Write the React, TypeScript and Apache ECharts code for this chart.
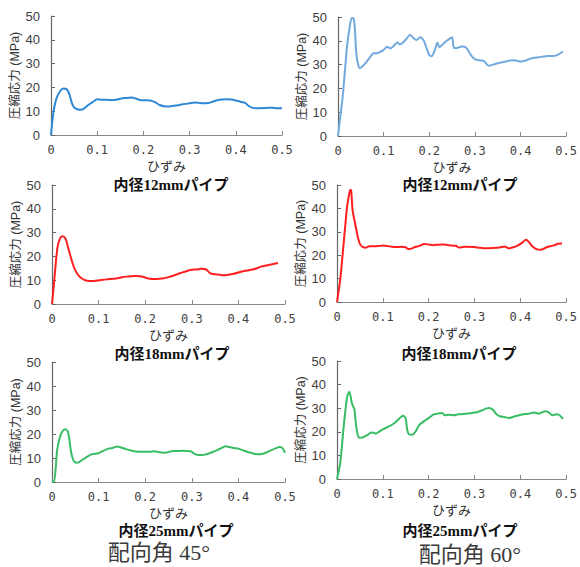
import React, { useEffect, useRef } from "react";
import * as echarts from "echarts";

// strain (ひずみ), compressive stress (MPa)
const curve45_12: [number, number][] = [
  [0, 0], [0.003, 6], [0.006, 10.5], [0.012, 15.5], [0.02, 18.5], [0.027, 19.5], [0.034, 19.2],
  [0.04, 17], [0.045, 13.5], [0.05, 11.6], [0.057, 10.8], [0.064, 10.6], [0.072, 11.2], [0.08, 12.5],
  [0.09, 13.8], [0.1, 15], [0.11, 14.8], [0.12, 14.8], [0.13, 14.7], [0.14, 14.8], [0.15, 15.2],
  [0.16, 15.5], [0.175, 15.8], [0.185, 15.2], [0.195, 14.6], [0.205, 14.6], [0.215, 14.5],
  [0.225, 13.8], [0.235, 12.6], [0.245, 12.1], [0.255, 12.0], [0.27, 12.4], [0.285, 12.9],
  [0.3, 13.3], [0.31, 13.7], [0.32, 13.5], [0.33, 13.3], [0.34, 13.4], [0.35, 14.0], [0.36, 14.6],
  [0.37, 14.9], [0.38, 15.0], [0.39, 14.9], [0.4, 14.5], [0.41, 14.0], [0.42, 13.5], [0.428, 12.2],
  [0.435, 11.5], [0.445, 11.2], [0.46, 11.3], [0.47, 11.5], [0.48, 11.4], [0.49, 11.2], [0.5, 11.2],
];

const curve60_12: [number, number][] = [
  [0, 0], [0.005, 8], [0.01, 16], [0.015, 27], [0.02, 38], [0.025, 45], [0.03, 49.6], [0.034, 49.5],
  [0.037, 45], [0.04, 35], [0.044, 30], [0.048, 28.5], [0.055, 29.5], [0.062, 31], [0.07, 33],
  [0.078, 34.8], [0.085, 34.8], [0.092, 35.3], [0.1, 36.2], [0.108, 37.5], [0.115, 36.8],
  [0.122, 37.8], [0.13, 39.3], [0.135, 38.5], [0.142, 39.2], [0.15, 40.8], [0.158, 42.5],
  [0.165, 41.2], [0.172, 40.3], [0.18, 41.5], [0.188, 40], [0.195, 36.5], [0.2, 34], [0.205, 33.5],
  [0.212, 36], [0.218, 39.3], [0.222, 37.3], [0.228, 38.2], [0.235, 39.5], [0.242, 40.5],
  [0.25, 41.5], [0.254, 37], [0.262, 37], [0.27, 37.6], [0.278, 37.5], [0.285, 36], [0.292, 33.8],
  [0.3, 32.3], [0.31, 31.8], [0.32, 31.5], [0.33, 29.5], [0.34, 30], [0.35, 30.6], [0.36, 31],
  [0.37, 31.4], [0.38, 31.8], [0.39, 31.7], [0.4, 31.3], [0.41, 31.6], [0.42, 32.4], [0.43, 32.9],
  [0.44, 33.1], [0.45, 33.4], [0.46, 33.6], [0.47, 33.6], [0.48, 34], [0.493, 35.5],
];

const curve45_18: [number, number][] = [
  [0, 0], [0.004, 8], [0.008, 17], [0.012, 24], [0.017, 27.5], [0.022, 28.5], [0.026, 28.2],
  [0.03, 27], [0.036, 22.7], [0.042, 18.5], [0.048, 15], [0.055, 12.5], [0.062, 11], [0.07, 10.1],
  [0.08, 9.7], [0.09, 9.7], [0.1, 9.9], [0.11, 10.2], [0.12, 10.4], [0.13, 10.6], [0.14, 10.8],
  [0.15, 11.2], [0.16, 11.5], [0.17, 11.7], [0.18, 11.8], [0.19, 11.7], [0.2, 11.1], [0.21, 10.6],
  [0.22, 10.5], [0.23, 10.6], [0.24, 10.8], [0.25, 11.3], [0.26, 11.9], [0.27, 12.6], [0.28, 13.3],
  [0.29, 13.9], [0.3, 14.4], [0.31, 14.5], [0.32, 14.8], [0.33, 14.6], [0.34, 12.9], [0.35, 12.5],
  [0.36, 12.3], [0.37, 12.1], [0.38, 12.3], [0.39, 12.7], [0.4, 13.2], [0.41, 13.8], [0.42, 14.1],
  [0.43, 14.5], [0.44, 15.0], [0.45, 15.8], [0.46, 16.2], [0.47, 16.6], [0.485, 17.2],
];

const curve60_18: [number, number][] = [
  [0, 0], [0.007, 9.5], [0.0145, 25], [0.022, 40.8], [0.027, 46.5], [0.029, 48], [0.031, 47.5],
  [0.034, 39.3], [0.04, 33], [0.046, 27.3], [0.051, 24.4], [0.056, 23.6], [0.062, 23.2],
  [0.07, 23.8], [0.08, 23.8], [0.09, 23.9], [0.1, 24.1], [0.11, 23.9], [0.12, 23.6], [0.13, 23.5],
  [0.14, 23.6], [0.15, 23.4], [0.155, 22.6], [0.162, 22.8], [0.17, 23.5], [0.18, 24], [0.19, 24.8],
  [0.2, 24.6], [0.21, 24.3], [0.22, 24.5], [0.23, 24.6], [0.24, 24.4], [0.25, 24.1], [0.26, 24],
  [0.265, 23.3], [0.28, 23.6], [0.3, 23.5], [0.31, 23.2], [0.32, 23], [0.34, 23.1], [0.355, 23.3],
  [0.365, 23.7], [0.375, 22.9], [0.385, 23.4], [0.395, 24.2], [0.405, 25.5], [0.412, 26.6],
  [0.418, 25.8], [0.425, 24], [0.435, 22.6], [0.445, 22.3], [0.455, 23.2], [0.465, 23.8],
  [0.475, 24.3], [0.482, 24.9], [0.491, 25],
];

const curve45_25: [number, number][] = [
  [0, 0], [0.004, 0], [0.008, 6], [0.011, 13.2], [0.018, 19.4], [0.024, 21.5], [0.029, 22],
  [0.034, 21], [0.037, 18], [0.041, 12.5], [0.046, 9], [0.052, 8], [0.058, 8.3], [0.065, 9.2],
  [0.075, 10.5], [0.085, 11.5], [0.1, 12], [0.11, 13], [0.12, 13.8], [0.13, 14.2], [0.14, 14.8],
  [0.15, 14.3], [0.16, 13.6], [0.17, 13.1], [0.18, 12.7], [0.19, 12.6], [0.2, 12.6], [0.21, 12.6],
  [0.22, 12.8], [0.23, 12.4], [0.24, 12.2], [0.25, 12.5], [0.26, 12.9], [0.27, 12.9], [0.28, 13],
  [0.29, 12.9], [0.3, 12.6], [0.305, 11.8], [0.315, 11.2], [0.325, 11.3], [0.335, 11.8],
  [0.345, 12.5], [0.355, 13.3], [0.365, 14.3], [0.372, 14.9], [0.38, 14.6], [0.39, 14.2],
  [0.4, 13.9], [0.41, 13.2], [0.42, 12.5], [0.43, 12], [0.44, 11.6], [0.45, 11.7], [0.46, 12.3],
  [0.47, 13.2], [0.48, 14], [0.488, 14.6], [0.494, 14.2], [0.5, 12.2],
];

const curve60_25: [number, number][] = [
  [0, 0], [0.007, 6.7], [0.0145, 22], [0.022, 34.8], [0.027, 37], [0.0326, 32], [0.036, 30.5],
  [0.038, 29.5], [0.042, 22.2], [0.047, 17.7], [0.054, 17.5], [0.06, 18], [0.068, 18.8],
  [0.075, 19.7], [0.08, 19.6], [0.085, 19.2], [0.09, 19.8], [0.1, 21], [0.11, 22], [0.12, 23],
  [0.13, 24.5], [0.14, 26.4], [0.145, 26.8], [0.15, 25.5], [0.153, 21], [0.157, 19], [0.165, 18.8],
  [0.172, 20.3], [0.18, 23], [0.19, 24.5], [0.2, 25.8], [0.21, 27.3], [0.22, 27.8], [0.23, 28],
  [0.235, 27], [0.245, 27.2], [0.255, 27], [0.265, 27.4], [0.275, 27.5], [0.285, 27.8], [0.295, 28],
  [0.305, 28.3], [0.315, 29], [0.325, 29.8], [0.332, 30.1], [0.34, 29.4], [0.348, 27.5],
  [0.355, 26.6], [0.365, 26.3], [0.375, 25.8], [0.385, 26.4], [0.395, 26.9], [0.41, 27.5],
  [0.42, 27.7], [0.43, 28.2], [0.44, 27.7], [0.455, 28.7], [0.462, 28.2], [0.47, 27], [0.48, 27.4],
  [0.487, 26.8], [0.493, 25.5],
];

const panelTitles = ["内径12mmパイプ", "内径12mmパイプ", "内径18mmパイプ", "内径18mmパイプ", "内径25mmパイプ", "内径25mmパイプ"];
const angleLabels = ["配向角 45°", "配向角 60°"];
const xAxisName = "ひずみ";
const yAxisName = "圧縮応力 (MPa)";

const panels = [
  { data: curve45_12, color: "#2f87d6", grid: { left: 51, top: 16, width: 231, height: 119 }, title: [171, 185] },
  { data: curve60_12, color: "#72a9de", grid: { left: 338, top: 17, width: 232, height: 119 }, title: [460, 185] },
  { data: curve45_18, color: "#ff1f1f", grid: { left: 52, top: 185, width: 233, height: 119 }, title: [172, 354] },
  { data: curve60_18, color: "#ff1f1f", grid: { left: 337, top: 185, width: 230, height: 117 }, title: [459, 354] },
  { data: curve45_25, color: "#38bd64", grid: { left: 52, top: 362, width: 233, height: 120 }, title: [176, 531] },
  { data: curve60_25, color: "#38bd64", grid: { left: 337, top: 361, width: 230, height: 118 }, title: [460, 531] },
];

export default function App() {
  const ref = useRef<HTMLDivElement>(null);
  useEffect(() => {
    if (!ref.current) return;
    const chart = echarts.init(ref.current, undefined, { renderer: "svg" });
    const grids = panels.map((p) => ({ ...p.grid, containLabel: false }));
    const xAxes = panels.map((_, i) => ({
      type: "value",
      gridIndex: i,
      min: 0,
      max: 0.5,
      interval: 0.1,
      name: xAxisName,
      nameLocation: "middle",
      nameGap: 24,
      nameTextStyle: { fontSize: 13, lineHeight: 13, color: "#333", fontFamily: "'Noto Sans CJK JP'" },
      axisLine: { show: true, onZero: false, lineStyle: { color: "#888", width: 1.2 } },
      axisTick: { show: true, inside: true, length: 4, lineStyle: { color: "#888" } },
      splitLine: { show: false },
      axisLabel: {
        margin: 9,
        fontSize: 12,
        color: "#404040",
        fontFamily: "'DejaVu Sans Mono', monospace",
        formatter: (v: number) => (v === 0 ? "0" : v.toFixed(1)),
      },
    }));
    const yAxes = panels.map((_, i) => ({
      type: "value",
      gridIndex: i,
      min: 0,
      max: 50,
      interval: 10,
      name: yAxisName,
      nameLocation: "middle",
      nameGap: 30,
      nameTextStyle: { fontSize: 12.5, color: "#333", fontFamily: "'Liberation Sans', 'Noto Sans CJK JP'" },
      axisLine: { show: true, lineStyle: { color: "#666", width: 1.2 } },
      axisTick: { show: true, inside: true, length: 4, lineStyle: { color: "#666" } },
      splitLine: { show: false },
      axisLabel: { margin: 11, fontSize: 13, color: "#404040", fontFamily: "'Liberation Sans', Arial, sans-serif" },
    }));
    const series = panels.map((p, i) => ({
      type: "line",
      xAxisIndex: i,
      yAxisIndex: i,
      data: p.data,
      showSymbol: false,
      smooth: 0.25,
      lineStyle: { color: p.color, width: 2 },
      itemStyle: { color: p.color },
    }));
    const graphics: any[] = panels.map((p, i) => ({
      type: "text",
      x: p.title[0],
      y: p.title[1],
      style: {
        text: panelTitles[i],
        align: "center",
        verticalAlign: "middle",
        textAlign: "center",
        textVerticalAlign: "middle",
        font: "bold 15px 'Liberation Serif', 'Noto Sans CJK JP'",
        lineHeight: 15,
        fill: "#111",
      },
    }));
    [[159, 552], [470, 554]].forEach((pos, i) => {
      graphics.push({
        type: "text",
        x: pos[0],
        y: pos[1],
        style: {
          text: angleLabels[i],
          align: "center",
          verticalAlign: "middle",
          textAlign: "center",
          textVerticalAlign: "middle",
          font: "22px 'Liberation Serif', 'Noto Sans CJK JP'",
          fill: "#3a3a3a",
        },
      });
    });
    chart.setOption({
      animation: false,
      backgroundColor: "#fff",
      grid: grids,
      xAxis: xAxes,
      yAxis: yAxes,
      series,
      graphic: graphics,
    });
    return () => chart.dispose();
  }, []);
  return (
    <div
      ref={ref}
      style={{ position: "absolute", left: 0, top: 0, width: 580, height: 567, background: "#fff" }}
    />
  );
}
